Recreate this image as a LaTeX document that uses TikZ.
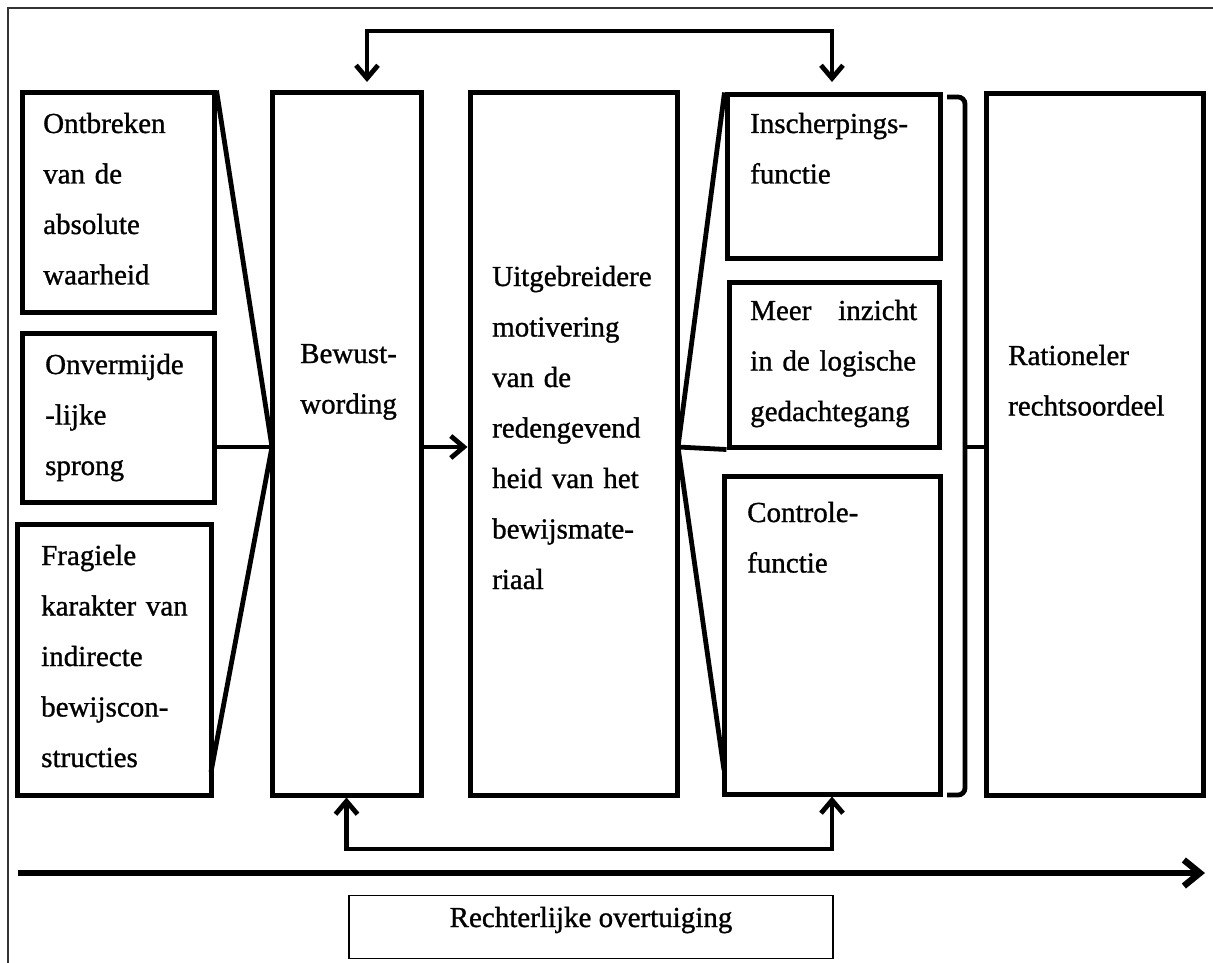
\documentclass[tikz,border=0pt]{standalone}
\usepackage{fontspec}
\setmainfont[FakeBold=1]{Liberation Serif}
\usetikzlibrary{arrows.meta,fit}
\begin{document}
\begin{tikzpicture}[x=1pt,y=-1pt,
  box/.style={draw, line width=5pt, inner sep=0pt, fit={#1}},
  txt/.style={anchor=base west, align=left, text width=#1, inner sep=0pt,
    font={\fontsize{29pt}{50.5pt}\selectfont}},
  txt/.default=190pt,
  conn/.style={line width=4.8pt}
]
\useasboundingbox (0,0) rectangle (1213,963);
% frame
\draw[line width=1.3pt, black!80] (8,963) -- (8,8) -- (1213,8);

% free ends of fan lines
\coordinate (lp) at (272,447);
\coordinate (lc) at (211,772);
\coordinate (rp) at (678,447);
\coordinate (rc) at (724,770);

% boxes
\node[box={(22,93) (214,312)}] (A) {};
\node[box={(22,333) (214,502)}] (B) {};
\node[box={(17,524) (211,795)}] (C) {};
\node[box={(272,93) (421,795)}] (bew) {};
\node[box={(470,93) (677,795)}] (uit) {};
\node[box={(727,95) (940,258)}] (ins) {};
\node[box={(729,282) (939,447)}] (meer) {};
\node[box={(724,476) (940,794)}] (con) {};
\node[box={(986,94) (1203,795)}] (rat) {};

% texts
\node[txt] (tA) at (43,133) {Ontbreken\\van de\\absolute\\waarheid};
\node[txt] (tB) at (45,374) {Onvermijde\\-lijke\\sprong};
\node[txt] (tC) at (41,565) {Fragiele\\karakter van\\indirecte\\bewijscon-\\structies};
\node[txt] (tBew) at (300,363) {Bewust-\\wording};
\node[txt] (tUit) at (492,286) {Uitgebreidere\\motivering\\van de\\redengevend\\heid van het\\bewijsmate-\\riaal};
\node[txt] (tIns) at (750,133) {Inscherpings-\\functie};
\node[txt=167pt] (tMeer) at (750,320) {Meer \hfill inzicht\\in de logische\\gedachtegang};
\node[txt] (tCon) at (747,522) {Controle-\\functie};
\node[txt] (tRat) at (1008,365) {Rationeler\\rechtsoordeel};

% fan lines left
\draw[conn] (A.north east) -- (lp);
\draw[conn] (B.east |- lp) -- (lp);
\draw[conn] (lc) -- (lp);

% middle arrow
\draw[conn, -{Straight Barb[length=13pt,width=22pt]}] (bew.east |- lp) -- (uit.west |- lp);

% fan lines right
\draw[conn] (rp) -- (ins.north west);
\draw[conn] (rp) -- (meer.south west);
\draw[conn] (rp) -- (rc);

% brace
\coordinate (bt) at (947,97);
\coordinate (bb) at (947,795);
\coordinate (bm) at (965,447);
\draw[conn, rounded corners=7pt] (bt) -- (bt -| bm) -- (bm) -- (bb -| bm) -- (bb);
\draw[conn] (bm) -- (rat.west |- bm);

% top connector
\coordinate (ta1) at (367,82);
\coordinate (ta2) at (832,82);
\draw[conn, {Straight Barb[length=13pt,width=22pt]}-{Straight Barb[length=13pt,width=22pt]}]
  (ta1) -- (367,31) -- (832,31) -- (ta2);

% bottom connector
\draw[conn, {Straight Barb[length=13pt,width=22pt]}-{Straight Barb[length=13pt,width=22pt]}]
  (bew.south) -- (bew.south |- 0,849) -- (con.south |- 0,849) -- (con.south);

% long arrow
\coordinate (la) at (18,873);
\coordinate (lb) at (1205,873);
\draw[line width=6.5pt, -{Straight Barb[length=16pt,width=26pt]}] (la) -- (lb);

% label
\node[draw, line width=1.3pt, inner sep=0pt, minimum width=484pt, minimum height=63pt,
  text height=8pt, text depth=8pt, font={\fontsize{29pt}{34pt}\selectfont}]
  (lbl) at (591,927) {Rechterlijke overtuiging};
\end{tikzpicture}
\end{document}
